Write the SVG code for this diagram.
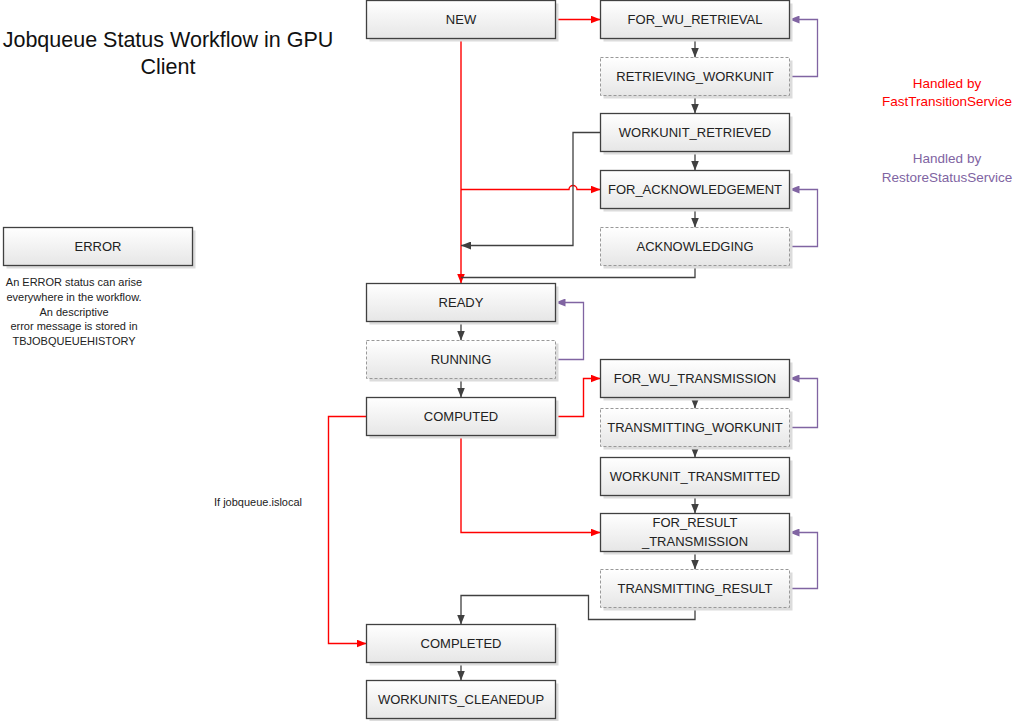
<svg xmlns="http://www.w3.org/2000/svg" width="1018" height="721" viewBox="0 0 1018 721">
<defs>
<linearGradient id="g" x1="0" y1="0" x2="0" y2="1">
<stop offset="0" stop-color="#ffffff"/>
<stop offset="1" stop-color="#e6e6e6"/>
</linearGradient>
<marker id="ad" markerUnits="userSpaceOnUse" markerWidth="10" markerHeight="8" refX="10" refY="4" orient="auto"><path d="M0,0 L10,4 L0,8 z" fill="#404040"/></marker>
<marker id="ar" markerUnits="userSpaceOnUse" markerWidth="10" markerHeight="8" refX="10" refY="4" orient="auto"><path d="M0,0 L10,4 L0,8 z" fill="#ff0000"/></marker>
<marker id="ap" markerUnits="userSpaceOnUse" markerWidth="10" markerHeight="8" refX="10" refY="4" orient="auto"><path d="M0,0 L10,4 L0,8 z" fill="#8064a2"/></marker>
</defs>
<style>
.sh{fill:#dcdcdc}
.b{fill:url(#g);stroke:#404040;stroke-width:1.3}
.d{fill:url(#g);stroke:#999999;stroke-width:1;stroke-dasharray:3,2}
.t{font-family:"Liberation Sans",Arial,sans-serif;font-size:13px;fill:#222;text-anchor:middle}
.n{font-family:"Liberation Sans",Arial,sans-serif;font-size:11px;fill:#222;text-anchor:middle}
.lg{font-family:"Liberation Sans",Arial,sans-serif;font-size:13.5px;text-anchor:middle}
.cr{fill:none;stroke:#ff0000;stroke-width:1.4}
.cd{fill:none;stroke:#404040;stroke-width:1.3}
.cp{fill:none;stroke:#8064a2;stroke-width:1.3}
</style>
<rect width="1018" height="721" fill="#ffffff"/>

<g id="title">
<text x="168" y="47" font-family="'Liberation Sans',Arial,sans-serif" font-size="21.5" fill="#111" text-anchor="middle">Jobqueue Status Workflow in GPU</text>
<text x="168" y="74" font-family="'Liberation Sans',Arial,sans-serif" font-size="21.5" fill="#111" text-anchor="middle">Client</text>
</g>

<g id="legend">
<text class="lg" x="947" y="88" fill="#ff0000">Handled by</text>
<text class="lg" x="947" y="106" fill="#ff0000">FastTransitionService</text>
<text class="lg" x="947" y="163" fill="#8064a2">Handled by</text>
<text class="lg" x="947" y="182" fill="#8064a2">RestoreStatusService</text>
</g>

<g id="connectors">
<path class="cr" d="M555.5,19.5 H600.5" marker-end="url(#ar)"/>
<path class="cr" d="M461,38.5 V283.5" marker-end="url(#ar)"/>
<path class="cr" d="M461,189.5 H569 A4,4 0 0 1 577,189.5 H600.5" marker-end="url(#ar)"/>
<path class="cr" d="M555.5,416.5 H583.5 V378.5 H600.5" marker-end="url(#ar)"/>
<path class="cr" d="M461,435.5 V532.5 H600.5" marker-end="url(#ar)"/>
<path class="cr" d="M366.5,416.5 H328.5 V643.5 H366.5" marker-end="url(#ar)"/>

<path class="cd" d="M695,38.5 V57.5" marker-end="url(#ad)"/>
<path class="cd" d="M695,95.5 V113.5" marker-end="url(#ad)"/>
<path class="cd" d="M695,151.5 V170.5" marker-end="url(#ad)"/>
<path class="cd" d="M695,208.5 V227.5" marker-end="url(#ad)"/>
<path class="cd" d="M600.5,132.5 H573 V245.5 H461" marker-end="url(#ad)"/>
<path class="cd" d="M695,265.5 V277.5 H461"/>
<path class="cd" d="M461,321.5 V340.5" marker-end="url(#ad)"/>
<path class="cd" d="M461,378.5 V397.5" marker-end="url(#ad)"/>
<path class="cd" d="M695,397.5 V408.5" marker-end="url(#ad)"/>
<path class="cd" d="M695,446.5 V457.5" marker-end="url(#ad)"/>
<path class="cd" d="M695,495.5 V513.5" marker-end="url(#ad)"/>
<path class="cd" d="M695,551.5 V569.5" marker-end="url(#ad)"/>
<path class="cd" d="M695,607.5 V619.5 H588.5 V595.5 H461 V624.5" marker-end="url(#ad)"/>
<path class="cd" d="M461,662.5 V680.5" marker-end="url(#ad)"/>

<path class="cp" d="M789.5,76.5 H817.5 V19.5 H789.5" marker-end="url(#ap)"/>
<path class="cp" d="M789.5,246.5 H817.5 V189.5 H789.5" marker-end="url(#ap)"/>
<path class="cp" d="M555.5,359.5 H583.5 V302.5 H555.5" marker-end="url(#ap)"/>
<path class="cp" d="M789.5,427.5 H817.5 V378.5 H789.5" marker-end="url(#ap)"/>
<path class="cp" d="M789.5,588.5 H817.5 V532.5 H789.5" marker-end="url(#ap)"/>

<text class="n" x="258" y="506">If jobqueue.islocal</text>
</g>

<g id="NEW"><rect class="sh" x="369.5" y="3.5" width="189" height="38"/><rect class="b" x="366.5" y="0.5" width="189" height="38"/><text class="t" x="461" y="24">NEW</text></g>
<g id="READY"><rect class="sh" x="369.5" y="286.5" width="189" height="38"/><rect class="b" x="366.5" y="283.5" width="189" height="38"/><text class="t" x="461" y="307">READY</text></g>
<g id="RUNNING"><rect class="sh" x="369.5" y="343.5" width="189" height="38"/><rect class="d" x="366.5" y="340.5" width="189" height="38"/><text class="t" x="461" y="364">RUNNING</text></g>
<g id="COMPUTED"><rect class="sh" x="369.5" y="400.5" width="189" height="38"/><rect class="b" x="366.5" y="397.5" width="189" height="38"/><text class="t" x="461" y="421">COMPUTED</text></g>
<g id="COMPLETED"><rect class="sh" x="369.5" y="627.5" width="189" height="38"/><rect class="b" x="366.5" y="624.5" width="189" height="38"/><text class="t" x="461" y="648">COMPLETED</text></g>
<g id="WORKUNITS_CLEANEDUP"><rect class="sh" x="369.5" y="683.5" width="189" height="38"/><rect class="b" x="366.5" y="680.5" width="189" height="38"/><text class="t" x="461" y="704">WORKUNITS_CLEANEDUP</text></g>

<g id="FOR_WU_RETRIEVAL"><rect class="sh" x="603.5" y="3.5" width="189" height="38"/><rect class="b" x="600.5" y="0.5" width="189" height="38"/><text class="t" x="695" y="24">FOR_WU_RETRIEVAL</text></g>
<g id="RETRIEVING_WORKUNIT"><rect class="sh" x="603.5" y="60.5" width="189" height="38"/><rect class="d" x="600.5" y="57.5" width="189" height="38"/><text class="t" x="695" y="81">RETRIEVING_WORKUNIT</text></g>
<g id="WORKUNIT_RETRIEVED"><rect class="sh" x="603.5" y="116.5" width="189" height="38"/><rect class="b" x="600.5" y="113.5" width="189" height="38"/><text class="t" x="695" y="137">WORKUNIT_RETRIEVED</text></g>
<g id="FOR_ACKNOWLEDGEMENT"><rect class="sh" x="603.5" y="173.5" width="189" height="38"/><rect class="b" x="600.5" y="170.5" width="189" height="38"/><text class="t" x="695" y="194">FOR_ACKNOWLEDGEMENT</text></g>
<g id="ACKNOWLEDGING"><rect class="sh" x="603.5" y="230.5" width="189" height="38"/><rect class="d" x="600.5" y="227.5" width="189" height="38"/><text class="t" x="695" y="251">ACKNOWLEDGING</text></g>
<g id="FOR_WU_TRANSMISSION"><rect class="sh" x="603.5" y="362.5" width="189" height="38"/><rect class="b" x="600.5" y="359.5" width="189" height="38"/><text class="t" x="695" y="383">FOR_WU_TRANSMISSION</text></g>
<g id="TRANSMITTING_WORKUNIT"><rect class="sh" x="603.5" y="411.5" width="189" height="38"/><rect class="d" x="600.5" y="408.5" width="189" height="38"/><text class="t" x="695" y="432">TRANSMITTING_WORKUNIT</text></g>
<g id="WORKUNIT_TRANSMITTED"><rect class="sh" x="603.5" y="460.5" width="189" height="38"/><rect class="b" x="600.5" y="457.5" width="189" height="38"/><text class="t" x="695" y="481">WORKUNIT_TRANSMITTED</text></g>
<g id="FOR_RESULT_TRANSMISSION"><rect class="sh" x="603.5" y="516.5" width="189" height="38"/><rect class="b" x="600.5" y="513.5" width="189" height="38"/><text class="t" x="695" y="527">FOR_RESULT</text><text class="t" x="695" y="546">_TRANSMISSION</text></g>
<g id="TRANSMITTING_RESULT"><rect class="sh" x="603.5" y="572.5" width="189" height="38"/><rect class="d" x="600.5" y="569.5" width="189" height="38"/><text class="t" x="695" y="593">TRANSMITTING_RESULT</text></g>

<g id="ERROR"><rect class="sh" x="6.5" y="230.5" width="189" height="38"/><rect class="b" x="3.5" y="227.5" width="189" height="38"/><text class="t" x="98" y="251">ERROR</text>
<text class="n" x="74" y="286">An ERROR status can arise</text>
<text class="n" x="74" y="301">everywhere in the workflow.</text>
<text class="n" x="74" y="315.5">An descriptive</text>
<text class="n" x="74" y="330">error message is stored in</text>
<text class="n" x="74" y="344.5">TBJOBQUEUEHISTORY</text>
</g>
</svg>
